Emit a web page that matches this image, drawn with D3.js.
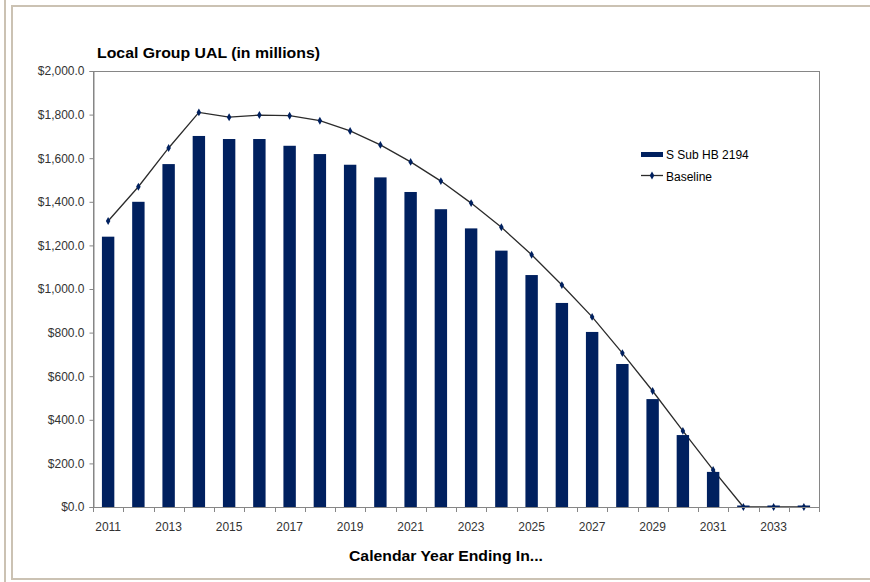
<!DOCTYPE html>
<html>
<head>
<meta charset="utf-8">
<script src="https://cdn.jsdelivr.net/npm/d3@7"></script>
<style>
  html, body { margin: 0; padding: 0; background: #fff; }
  svg { display: block; font-family: Arial, "Liberation Sans", Helvetica, sans-serif; }
</style>
</head>
<body>
<svg id="chart" width="870" height="582"></svg>
<script>
// Local Group UAL projections (in $ millions), by calendar year
const years = d3.range(2011, 2035);
const subBill = [1240, 1400, 1573, 1702, 1688, 1688, 1657, 1619, 1570, 1512, 1445, 1366,
                 1278, 1176, 1064, 936, 803, 656, 495, 330, 161, 0, 0, 0];
const baseline = [1312, 1469, 1647, 1810, 1788, 1798, 1795, 1772, 1725, 1661, 1583, 1495,
                  1394, 1283, 1157, 1018, 872, 706, 532, 349, 170, 0, 0, 0];
const yTicks = [0, 200, 400, 600, 800, 1000, 1200, 1400, 1600, 1800, 2000];
const xLabelYears = years.filter(y => (y - 2011) % 2 === 0);
const seriesNames = ["S Sub HB 2194", "Baseline"];

const svg = d3.select("#chart");
const frameColor = "#cbc2b3";
const barColor = "#00205f";
const axisColor = "#868686";
const textColor = "#333333";

// page frame
svg.append("rect").attr("x", 4).attr("y", 0).attr("width", 2).attr("height", 582).attr("fill", frameColor);
svg.append("rect").attr("x", 11).attr("y", 5).attr("width", 859).attr("height", 2).attr("fill", frameColor);
svg.append("rect").attr("x", 11).attr("y", 5).attr("width", 2).attr("height", 575).attr("fill", frameColor);
svg.append("rect").attr("x", 11).attr("y", 578).attr("width", 859).attr("height", 2).attr("fill", frameColor);

const plot = { left: 93, top: 71, right: 819, bottom: 507 };

const x = d3.scaleBand().domain(years).range([plot.left, plot.right]).padding(0);
const y = d3.scaleLinear().domain([0, 2000]).range([plot.bottom, plot.top]);
const barW = x.bandwidth() * 0.41;

// plot area border
svg.append("rect")
  .attr("x", plot.left + 0.5).attr("y", plot.top + 0.5)
  .attr("width", plot.right - plot.left).attr("height", plot.bottom - plot.top)
  .attr("fill", "none").attr("stroke", axisColor).attr("stroke-width", 1);

// baseline line with markers
const line = d3.line()
  .x((d, i) => x(years[i]) + x.bandwidth() / 2)
  .y(d => y(d));
svg.append("path").datum(baseline)
  .attr("d", line).attr("fill", "none")
  .attr("stroke", "#2b2b2b").attr("stroke-width", 1.3);
const diamond = d3.symbol().type(d3.symbolDiamond).size(18);
svg.append("g").selectAll("path").data(baseline).join("path")
  .attr("transform", (d, i) => `translate(${x(years[i]) + x.bandwidth() / 2},${y(d)})`)
  .attr("d", diamond)
  .attr("fill", barColor);

// bars
svg.append("g").selectAll("rect").data(years).join("rect")
  .attr("x", d => x(d) + (x.bandwidth() - barW) / 2)
  .attr("y", (d, i) => y(subBill[i]) - (subBill[i] === 0 ? 1.5 : 0))
  .attr("width", barW)
  .attr("height", (d, i) => Math.max(1.5, y(0) - y(subBill[i])))
  .attr("fill", barColor);

// y axis
const yAxis = svg.append("g")
  .attr("transform", `translate(${plot.left + 0.5},0)`)
  .call(d3.axisLeft(y).tickValues(yTicks).tickFormat(d3.format("$,.1f")).tickSize(4).tickPadding(5));
yAxis.select(".domain").attr("stroke", axisColor);
yAxis.selectAll(".tick line").attr("stroke", axisColor);
yAxis.selectAll("text").attr("fill", textColor).style("font-size", "12px");

// x axis: ticks on category boundaries, labels every other year
const bounds = d3.range(years.length + 1).map(i => plot.left + i * x.bandwidth());
const xg = svg.append("g");
xg.append("line")
  .attr("x1", plot.left).attr("x2", plot.right + 1)
  .attr("y1", plot.bottom + 0.5).attr("y2", plot.bottom + 0.5)
  .attr("stroke", axisColor);
xg.selectAll("line.tk").data(bounds).join("line").attr("class", "tk")
  .attr("x1", d => Math.round(d) + 0.5).attr("x2", d => Math.round(d) + 0.5)
  .attr("y1", plot.bottom).attr("y2", plot.bottom + 5)
  .attr("stroke", axisColor);
xg.selectAll("text").data(xLabelYears).join("text")
  .attr("x", d => x(d) + x.bandwidth() / 2)
  .attr("y", 531)
  .attr("text-anchor", "middle")
  .attr("fill", textColor)
  .style("font-size", "12px")
  .text(d => d);

// titles
svg.append("text").attr("x", 97).attr("y", 58)
  .style("font-size", "15px").style("font-weight", "bold").attr("fill", "#000")
  .attr("textLength", 223).attr("lengthAdjust", "spacingAndGlyphs")
  .text("Local Group UAL (in millions)");
svg.append("text").attr("x", 446).attr("y", 561)
  .attr("text-anchor", "middle")
  .style("font-size", "15px").style("font-weight", "bold").attr("fill", "#000")
  .attr("textLength", 194).attr("lengthAdjust", "spacingAndGlyphs")
  .text("Calendar Year Ending In...");

// legend
const lg = svg.append("g");
lg.append("rect").attr("x", 641).attr("y", 152).attr("width", 22).attr("height", 5).attr("fill", barColor);
lg.append("line").attr("x1", 641).attr("x2", 663).attr("y1", 175.5).attr("y2", 175.5)
  .attr("stroke", "#2b2b2b").attr("stroke-width", 1.3);
lg.append("path").attr("transform", "translate(652,175.5)").attr("d", diamond).attr("fill", barColor);
lg.selectAll("text").data(seriesNames).join("text")
  .attr("x", 666).attr("y", (d, i) => 158.5 + i * 22)
  .attr("fill", "#000").style("font-size", "12px")
  .text(d => d);
</script>
</body>
</html>
